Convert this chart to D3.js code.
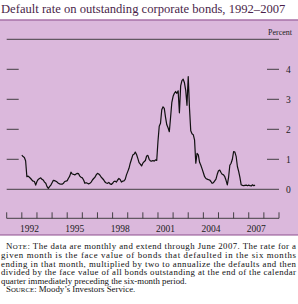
<!DOCTYPE html>
<html>
<head>
<meta charset="utf-8">
<script src="https://cdn.jsdelivr.net/npm/d3@7"></script>
<style>
  html, body { margin: 0; padding: 0; background: #fff; }
  svg { display: block; font-family: "Liberation Serif", "DejaVu Serif", serif; }
</style>
</head>
<body>
<svg id="chart" width="298" height="304"></svg>
<script>
// monthly default rate, Jan 1992 .. Jun 2007 (percent)
var startYear = 1992;
var rates = [
  1.14, 1.09, 1.06, 0.95, 0.42, 0.44, 0.40, 0.36, 0.31, 0.27, 0.26, 0.14,
  0.26, 0.33, 0.36, 0.38, 0.33, 0.31, 0.24, 0.20, 0.09, 0.03, 0.09, 0.14,
  0.22, 0.30, 0.29, 0.27, 0.24, 0.20, 0.18, 0.17, 0.17, 0.20, 0.26, 0.27,
  0.29, 0.37, 0.44, 0.57, 0.51, 0.50, 0.48, 0.51, 0.53, 0.52, 0.44, 0.40,
  0.38, 0.31, 0.20, 0.22, 0.20, 0.18, 0.20, 0.24, 0.31, 0.36, 0.40, 0.48,
  0.53, 0.51, 0.47, 0.40, 0.36, 0.31, 0.24, 0.21, 0.20, 0.23, 0.18, 0.16,
  0.20, 0.26, 0.27, 0.24, 0.31, 0.36, 0.33, 0.24, 0.27, 0.28, 0.33, 0.48,
  0.59, 0.70, 0.87, 1.00, 1.14, 1.17, 1.24, 1.16, 1.03, 0.89, 0.84, 0.78,
  0.87, 0.92, 0.96, 1.11, 1.13, 1.00, 0.95, 0.94, 0.96, 0.94, 0.98, 0.96,
  1.60, 2.10, 2.20, 2.65, 2.75, 2.70, 2.40, 2.15, 2.05, 1.92, 2.40, 2.90,
  3.10, 3.20, 3.26, 3.20, 3.28, 2.55, 3.45, 3.62, 3.67, 3.55, 3.30, 2.80,
  3.76, 2.70, 1.95, 1.85, 1.82, 1.65, 0.87, 1.20, 1.15, 0.90, 0.80, 0.68,
  0.55, 0.42, 0.36, 0.34, 0.32, 0.31, 0.26, 0.20, 0.22, 0.28, 0.34, 0.50,
  0.62, 0.64, 0.56, 0.50, 0.48, 0.42, 0.30, 0.15, 0.40, 0.80, 0.87, 1.00,
  1.26, 1.24, 1.10, 0.76, 0.60, 0.40, 0.15, 0.13, 0.12, 0.13, 0.14, 0.12,
  0.14, 0.12, 0.11, 0.15, 0.12, 0.14
];
var yTicks = [0, 1, 2, 3, 4];
var yearTicks = d3.range(1991, 2010);
var yearLabels = [1992, 1995, 1998, 2001, 2004, 2007];

var title = "Default rate on outstanding corporate bonds, 1992\u20132007";
var noteLines = [
  "The data are monthly and extend through June 2007. The rate for a",
  "given month is the face value of bonds that defaulted in the six months",
  "ending in that month, multiplied by two to annualize the defaults and then",
  "divided by the face value of all bonds outstanding at the end of the calendar",
  "quarter immediately preceding the six-month period."
];
var sourceText = "Moody\u2019s Investors Service.";

var svg = d3.select("#chart");
var purple = "#dbb8dc";
var frameLine = "#8e4f8e";

var x = d3.scaleLinear().domain([1991, 2009]).range([6.7, 279]);
var y = d3.scaleLinear().domain([0, 5]).range([189.3, 39.3]);

// title
svg.append("text")
    .attr("x", 1).attr("y", 13)
    .attr("font-size", 12.6)
    .attr("fill", "#4a1f4a")
    .text(title);

// panel
svg.append("rect")
    .attr("x", 0).attr("y", 19.5)
    .attr("width", 298).attr("height", 215.5)
    .attr("fill", purple);
svg.append("line").attr("x1", 0).attr("x2", 298).attr("y1", 20).attr("y2", 20)
    .attr("stroke", frameLine).attr("stroke-width", 1.2);
svg.append("line").attr("x1", 0).attr("x2", 298).attr("y1", 235).attr("y2", 235)
    .attr("stroke", frameLine).attr("stroke-width", 1.2);

var axisColor = "#333";

// full lines at 0 and 5
[0, 5].forEach(function (v) {
    svg.append("line")
        .attr("x1", x(1991)).attr("x2", x(2009))
        .attr("y1", y(v)).attr("y2", y(v))
        .attr("stroke", axisColor).attr("stroke-width", 0.9);
});

// short ticks on both sides
var tickG = svg.append("g");
yTicks.filter(function (v) { return v > 0; }).forEach(function (v) {
    tickG.append("line").attr("x1", x(1991)).attr("x2", x(1991) + 12)
        .attr("y1", y(v)).attr("y2", y(v))
        .attr("stroke", axisColor).attr("stroke-width", 0.9);
    tickG.append("line").attr("x1", x(2009) - 12).attr("x2", x(2009))
        .attr("y1", y(v)).attr("y2", y(v))
        .attr("stroke", axisColor).attr("stroke-width", 0.9);
});

// y labels
svg.append("g").selectAll("text")
    .data(yTicks)
    .enter().append("text")
    .attr("x", 286).attr("y", function (d) { return y(d) + 3.2; })
    .attr("font-size", 9.5)
    .attr("fill", "#222")
    .text(function (d) { return d; });

svg.append("text")
    .attr("x", 292).attr("y", 34.5)
    .attr("text-anchor", "end")
    .attr("font-size", 8)
    .attr("fill", "#222")
    .text("Percent");

// x axis
var xAxisY = 218.3;
svg.append("line").attr("x1", x(1991)).attr("x2", x(2009))
    .attr("y1", xAxisY).attr("y2", xAxisY)
    .attr("stroke", axisColor).attr("stroke-width", 0.9);
svg.append("g").selectAll("line")
    .data(yearTicks)
    .enter().append("line")
    .attr("x1", function (d) { return x(d); })
    .attr("x2", function (d) { return x(d); })
    .attr("y1", xAxisY - 6).attr("y2", xAxisY)
    .attr("stroke", axisColor).attr("stroke-width", 0.9);
svg.append("g").selectAll("text")
    .data(yearLabels)
    .enter().append("text")
    .attr("x", function (d) { return x(d + 0.5); })
    .attr("y", 231.5)
    .attr("text-anchor", "middle")
    .attr("font-size", 9.5)
    .attr("fill", "#222")
    .text(function (d) { return d; });

// the series
var line = d3.line()
    .x(function (d, i) { return x(startYear + i / 12); })
    .y(function (d) { return y(d); });
svg.append("path")
    .datum(rates)
    .attr("d", line)
    .attr("fill", "none")
    .attr("stroke", "#111")
    .attr("stroke-width", 1.2)
    .attr("stroke-linejoin", "round");

// note
var noteSize = 8.8;
var lineH = 8.6;
var noteTop = 249.3;
var fullWidth = 295;

function smallCapsLabel(sel, word) {
    sel.append("tspan").text(word[0]);
    sel.append("tspan").attr("font-size", noteSize * 0.78).text(word.slice(1).toUpperCase());
}

noteLines.forEach(function (txt, i) {
    var t = svg.append("text")
        .attr("y", noteTop + i * lineH)
        .attr("font-size", noteSize)
        .attr("fill", "#111");
    if (i === 0) {
        t.attr("x", 6);
        smallCapsLabel(t, "Note");
        t.append("tspan").text(":  " + txt);
        t.attr("textLength", fullWidth + 1 - 6).attr("lengthAdjust", "spacing");
    } else if (i < noteLines.length - 1) {
        t.attr("x", 1).text(txt)
            .attr("textLength", fullWidth).attr("lengthAdjust", "spacing");
    } else {
        t.attr("x", 1).text(txt);
    }
});

var src = svg.append("text")
    .attr("x", 6).attr("y", noteTop + noteLines.length * lineH)
    .attr("font-size", noteSize)
    .attr("fill", "#111");
smallCapsLabel(src, "Source");
src.append("tspan").text(":  " + sourceText);
</script>
</body>
</html>
